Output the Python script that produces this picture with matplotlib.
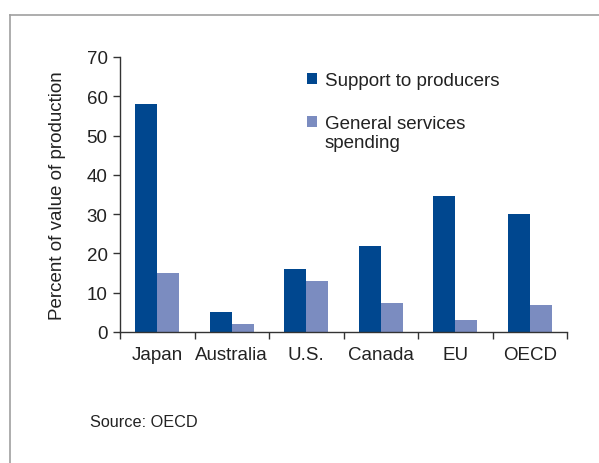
import numpy as np
import matplotlib
matplotlib.use("Agg")
import matplotlib.pyplot as plt
from matplotlib.patches import Rectangle
from matplotlib.lines import Line2D

plt.rcParams['font.family'] = ['Liberation Sans', 'DejaVu Sans']

categories = ['Japan', 'Australia', 'U.S.', 'Canada', 'EU', 'OECD']
support_to_producers = [58, 5, 16, 22, 34.5, 30]
general_services = [15, 2.1, 13, 7.5, 3, 7]
series_labels = ['Support to producers', 'General services\nspending']

dark = '#00478f'
light = '#7b8cc0'
axis_col = '#333333'
txt_col = '#222222'
fs = 13.5

W, H = 599, 464
fig = plt.figure(figsize=(W / 100, H / 100), dpi=100)

# axes box in pixels: left 120, right 567, top 58, bottom 333
ax = fig.add_axes([120 / W, 1 - 333 / H, (567 - 120) / W, (333 - 58) / H])

x = np.arange(len(categories))
bw = 0.295
ax.bar(x - bw / 2, support_to_producers, width=bw, color=dark)
ax.bar(x + bw / 2, general_services, width=bw, color=light)

ax.set_xlim(-0.5, len(categories) - 0.5)
ax.set_ylim(0, 70)
ax.set_yticks(range(0, 71, 10))
ax.set_xticks(np.arange(-0.5, len(categories), 1))
ax.set_xticklabels([])
ax.set_xticks(x, minor=True)
ax.set_xticklabels(categories, minor=True)
ax.tick_params(axis='x', which='minor', length=0, pad=10, labelsize=fs, labelcolor=txt_col)
ax.tick_params(axis='x', which='major', length=5, width=1, color=axis_col, direction='out')
ax.tick_params(axis='y', length=5, width=1, color=axis_col, direction='out', pad=4,
               labelsize=fs, labelcolor=txt_col)

for s in ['top', 'right']:
    ax.spines[s].set_visible(False)
for s in ['left', 'bottom']:
    ax.spines[s].set_color(axis_col)
    ax.spines[s].set_linewidth(1)

ax.set_ylabel('Percent of value of production', fontsize=fs, color=txt_col, labelpad=15)

# legend drawn by hand
def px(xp, yp):
    return xp / W, 1 - yp / H

for (y0, col, lab) in [(74, dark, series_labels[0]), (117, light, series_labels[1])]:
    fx, fy = px(307, y0 + 11)
    fig.add_artist(Rectangle((fx, fy), 10 / W, 11 / H, transform=fig.transFigure,
                             color=col, lw=0))
    tx, ty = px(325, y0 - 1)
    fig.text(tx, ty, lab, fontsize=fs, color=txt_col, va='top', ha='left',
             linespacing=1.15)

sx, sy = px(90, 423)
fig.text(sx, sy, 'Source: OECD', fontsize=11.7, color=txt_col, va='center', ha='left')

# frame lines
fig.add_artist(Line2D([10 / W, 10 / W], [0, 1 - 16 / H], transform=fig.transFigure,
                      color='#a0a0a0', lw=1.2))
fig.add_artist(Line2D([10 / W, 1], [1 - 16 / H, 1 - 16 / H], transform=fig.transFigure,
                      color='#a0a0a0', lw=1.2))

fig.savefig('out.png', dpi=100)
